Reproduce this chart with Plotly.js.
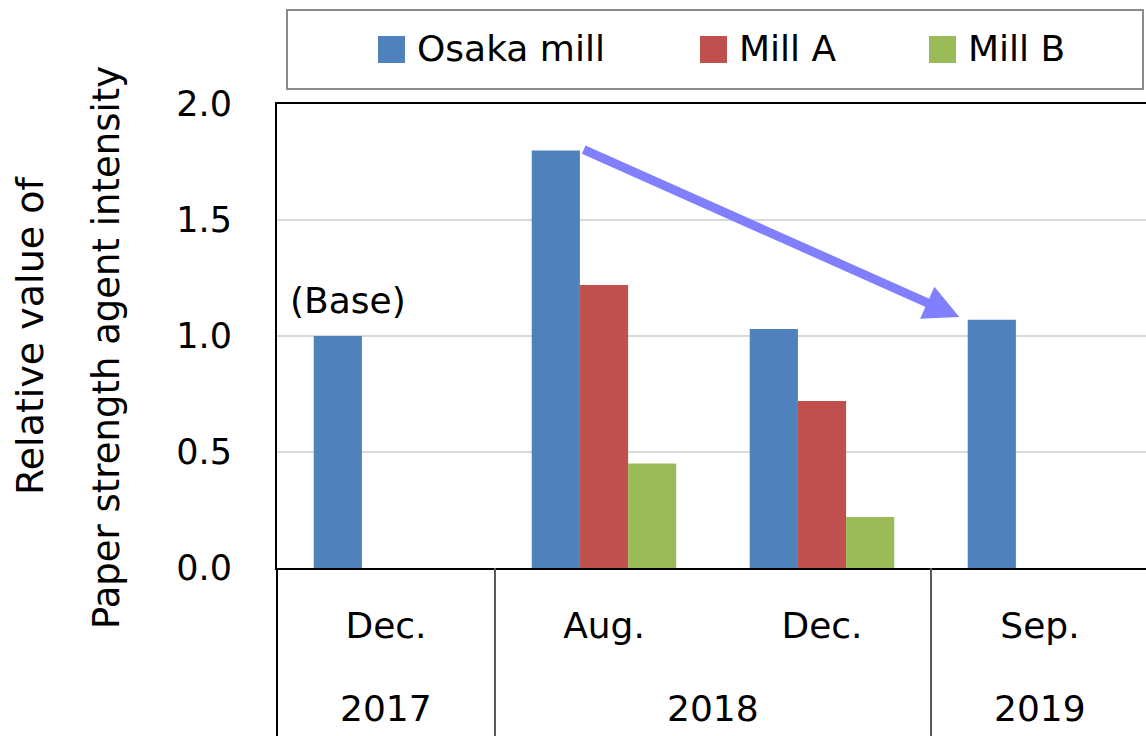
<!DOCTYPE html>
<html>
<head>
<meta charset="utf-8">
<script src="https://cdn.plot.ly/plotly-3.0.1.min.js"></script>
<style>html,body{margin:0;padding:0;background:#fff;overflow:hidden}</style>
</head>
<body>
<div id="chart" style="width:1149px;height:736px"></div>
<script>
// paper strength agent intensity, relative to Dec. 2017 (Osaka mill = 1.0)
var years = ['2017', '2018', '2018', '2019'];
var months = ['Dec.', 'Aug.', 'Dec.', 'Sep.'];
var seriesNames = ['Osaka mill', 'Mill A', 'Mill B'];
var osaka = [1.0, 1.80, 1.03, 1.07];
var millA = [null, 1.22, 0.72, null];
var millB = [null, 0.45, 0.22, null];
var colors = ['#4F81BD', '#C0504D', '#9BBB59'];
var yTicks = [0, 0.5, 1.0, 1.5, 2.0];

// plot area in pixels (right edge runs just past the window)
var L = 277, R = 1149, T = 104, B = 568;
function px(x) { return (x - L) / (R - L); }
function py(y) { return (B - y) / (B - T); }

var font = 'DejaVu Sans, Verdana, sans-serif';
var idx = months.map(function(m, i) { return i; });

var data = [osaka, millA, millB].map(function(vals, i) {
	return {
		type: 'bar',
		x: idx,
		y: vals,
		name: seriesNames[i],
		marker: {color: colors[i]},
		showlegend: false,
		hoverinfo: 'none'
	};
});

// legend box + entries
var legX = [378, 700, 929];
var shapes = [{
	type: 'rect', xref: 'paper', yref: 'paper',
	x0: px(287), x1: px(1143), y0: py(89), y1: py(10),
	line: {color: '#8c8c8c', width: 2}, fillcolor: '#fff'
}];
var annotations = [];
seriesNames.forEach(function(n, i) {
	shapes.push({
		type: 'rect', xref: 'paper', yref: 'paper',
		x0: px(legX[i]), x1: px(legX[i] + 27), y0: py(63), y1: py(36),
		line: {width: 0}, fillcolor: colors[i]
	});
	annotations.push({
		xref: 'paper', yref: 'paper', x: px(legX[i] + 37), y: py(48),
		xanchor: 'left', yanchor: 'middle', showarrow: false,
		text: n, font: {size: 36}
	});
});

// year row under the month labels, with dividers between the years
shapes.push({
	type: 'line', xref: 'paper', yref: 'paper', x0: 0, x1: 0, y0: 0, y1: py(736),
	line: {color: '#000', width: 2}
});
var start = 0;
for (var i = 1; i <= years.length; i++) {
	if (i === years.length || years[i] !== years[start]) {
		annotations.push({
			xref: 'x', yref: 'paper', x: (start + i - 1) / 2, y: py(708),
			xanchor: 'center', yanchor: 'middle', showarrow: false,
			text: years[start], font: {size: 36}
		});
		if (i < years.length) {
			shapes.push({
				type: 'line', xref: 'x', yref: 'paper', x0: i - 0.5, x1: i - 0.5,
				y0: 0, y1: py(736), line: {color: '#595959', width: 2}
			});
		}
		start = i;
	}
}

annotations.push(
	{xref: 'x', yref: 'y', x: -0.175, y: 1.155, text: '(Base)',
	 xanchor: 'center', yanchor: 'middle', showarrow: false, font: {size: 36}},
	{xref: 'x', yref: 'y', x: 2.63, y: 1.082, axref: 'x', ayref: 'y', ax: 0.9, ay: 1.806,
	 text: '', showarrow: true, arrowhead: 2, arrowsize: 0.78, arrowwidth: 9,
	 arrowcolor: '#8080FF', standoff: 0},
	{xref: 'paper', yref: 'paper', x: px(30), y: py(336), textangle: -90,
	 xanchor: 'center', yanchor: 'middle',
	 text: 'Relative value of', showarrow: false, font: {size: 38}},
	{xref: 'paper', yref: 'paper', x: px(106), y: py(348), textangle: -90,
	 xanchor: 'center', yanchor: 'middle',
	 text: 'Paper strength agent intensity', showarrow: false, font: {size: 37}}
);

var layout = {
	width: 1149,
	height: 736,
	margin: {l: L, r: 1149 - R, t: T, b: 736 - B},
	paper_bgcolor: '#fff',
	plot_bgcolor: '#fff',
	font: {family: font, size: 36, color: '#000'},
	barmode: 'group',
	bargap: 0.337,
	bargroupgap: 0,
	xaxis: {
		range: [-0.5, 3.5], tickvals: idx, ticktext: months,
		showline: true, linecolor: '#000', linewidth: 2, mirror: true,
		showgrid: false, zeroline: false, ticks: '', ticklabelstandoff: 25,
		tickfont: {size: 36}
	},
	yaxis: {
		range: [0, 2], tickvals: yTicks, tickformat: '.1f',
		showline: true, linecolor: '#000', linewidth: 2,
		showgrid: true, gridcolor: '#D9D9D9', gridwidth: 2,
		zeroline: false, ticks: '', ticklabelstandoff: 36,
		tickfont: {size: 35}
	},
	shapes: shapes,
	annotations: annotations
};

Plotly.newPlot('chart', data, layout, {staticPlot: true});
</script>
</body>
</html>
